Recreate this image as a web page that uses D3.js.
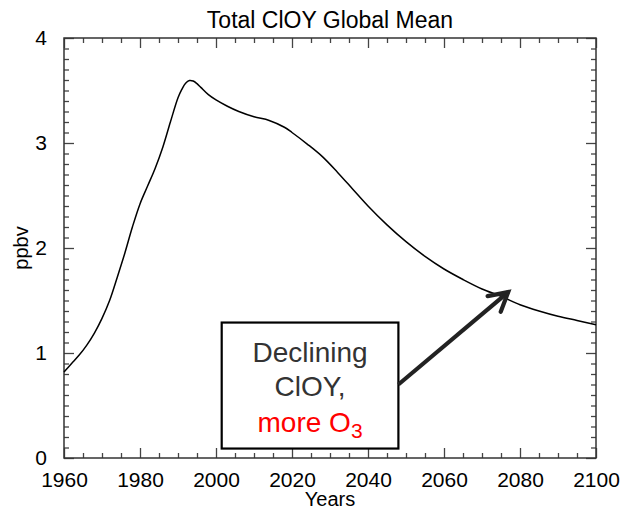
<!DOCTYPE html>
<html>
<head>
<meta charset="utf-8">
<script src="https://cdn.jsdelivr.net/npm/d3@7"></script>
<style>
  html, body { margin: 0; padding: 0; background: #fff; }
  svg { display: block; font-family: "Liberation Sans", Arial, Helvetica, sans-serif; }
</style>
</head>
<body>
<svg id="chart" width="622" height="511"></svg>
<script>
// Total ClOY global mean mixing ratio (ppbv) by year
const years = [1960, 1962, 1964, 1966, 1968, 1970, 1972, 1974, 1976, 1978,
               1980, 1982, 1984, 1986, 1988, 1990, 1991, 1992, 1993, 1994,
               1995, 1996, 1998, 2000, 2003, 2006, 2010, 2014, 2018, 2020,
               2024, 2028, 2032, 2036, 2040, 2045, 2050, 2055, 2060, 2065,
               2070, 2075, 2080, 2085, 2090, 2095, 2100];
const cloy  = [0.82, 0.90, 0.98, 1.075, 1.19, 1.33, 1.50, 1.72, 1.95, 2.20,
               2.42, 2.59, 2.76, 2.96, 3.20, 3.43, 3.51, 3.57, 3.595, 3.59,
               3.565, 3.53, 3.46, 3.41, 3.35, 3.30, 3.25, 3.215, 3.15, 3.10,
               2.99, 2.87, 2.72, 2.56, 2.40, 2.22, 2.06, 1.92, 1.80, 1.70,
               1.61, 1.54, 1.46, 1.40, 1.35, 1.31, 1.27];

const xMajor = [1960, 1980, 2000, 2020, 2040, 2060, 2080, 2100];
const yMajor = [0, 1, 2, 3, 4];

// Annotation: callout box and arrow pointing at the decline
const boxCorners = [[2001.5, 1.29], [2048.0, 0.09]];
const boxLines = ["Declining", "ClOY,"];
const arrowFrom = [2048.0, 0.70];
const arrowTo   = [2076.9, 1.58];

const svg = d3.select("#chart");
const L = 64, R = 596, T = 38, B = 458;

const x = d3.scaleLinear().domain([1960, 2100]).range([L, R]);
const y = d3.scaleLinear().domain([0, 4]).range([B, T]);

const xMinor = d3.range(1960, 2101, 5).filter(v => !xMajor.includes(v));
const yMinor = d3.range(0, 41).map(v => v / 10).filter(v => !yMajor.includes(v));

const tickColor = "#444";

function styleAxis(g) {
  g.select(".domain").remove();
  g.selectAll(".tick line").attr("stroke", tickColor).attr("stroke-width", 1.3);
  g.selectAll(".tick text").attr("fill", "#000").attr("font-size", 21)
    .attr("font-family", "'Liberation Sans', Arial, Helvetica, sans-serif");
}

// Bottom axis with labels
svg.append("g").attr("transform", `translate(0,${B})`)
  .call(d3.axisBottom(x).tickValues(xMajor).tickFormat(d3.format("d"))
    .tickSizeInner(-10).tickSizeOuter(0).tickPadding(14))
  .call(styleAxis);
svg.append("g").attr("transform", `translate(0,${B})`)
  .call(d3.axisBottom(x).tickValues(xMinor).tickFormat("").tickSizeInner(-5).tickSizeOuter(0))
  .call(styleAxis);
// Top axis, ticks only
svg.append("g").attr("transform", `translate(0,${T})`)
  .call(d3.axisTop(x).tickValues(xMajor).tickFormat("").tickSizeInner(-10).tickSizeOuter(0))
  .call(styleAxis);
svg.append("g").attr("transform", `translate(0,${T})`)
  .call(d3.axisTop(x).tickValues(xMinor).tickFormat("").tickSizeInner(-5).tickSizeOuter(0))
  .call(styleAxis);
// Left axis with labels
svg.append("g").attr("transform", `translate(${L},0)`)
  .call(d3.axisLeft(y).tickValues(yMajor).tickFormat(d3.format("d"))
    .tickSizeInner(-10).tickSizeOuter(0).tickPadding(17))
  .call(styleAxis)
  .call(g => g.selectAll(".tick text").attr("dy", "0.3em"));
svg.append("g").attr("transform", `translate(${L},0)`)
  .call(d3.axisLeft(y).tickValues(yMinor).tickFormat("").tickSizeInner(-5).tickSizeOuter(0))
  .call(styleAxis);
// Right axis, ticks only
svg.append("g").attr("transform", `translate(${R},0)`)
  .call(d3.axisRight(y).tickValues(yMajor).tickFormat("").tickSizeInner(-10).tickSizeOuter(0))
  .call(styleAxis);
svg.append("g").attr("transform", `translate(${R},0)`)
  .call(d3.axisRight(y).tickValues(yMinor).tickFormat("").tickSizeInner(-5).tickSizeOuter(0))
  .call(styleAxis);

// Plot frame
svg.append("rect")
  .attr("x", L).attr("y", T).attr("width", R - L).attr("height", B - T)
  .attr("fill", "none").attr("stroke", "#333").attr("stroke-width", 1.5);

// Data curve
const line = d3.line()
  .x((d, i) => x(years[i]))
  .y(d => y(d))
  .curve(d3.curveCatmullRom.alpha(0.5));
svg.append("path")
  .datum(cloy)
  .attr("d", line)
  .attr("fill", "none")
  .attr("stroke", "#000")
  .attr("stroke-width", 1.5);

// Titles
svg.append("text")
  .attr("x", (L + R) / 2).attr("y", 28)
  .attr("text-anchor", "middle").attr("font-size", 23)
  .text("Total ClOY Global Mean");
svg.append("text")
  .attr("x", (L + R) / 2).attr("y", 506)
  .attr("text-anchor", "middle").attr("font-size", 20)
  .text("Years");
svg.append("text")
  .attr("transform", `translate(28,${y(2)}) rotate(-90)`)
  .attr("text-anchor", "middle").attr("font-size", 20)
  .text("ppbv");

// Callout box
const bx0 = x(boxCorners[0][0]), by0 = y(boxCorners[0][1]);
const bx1 = x(boxCorners[1][0]), by1 = y(boxCorners[1][1]);
svg.append("rect")
  .attr("x", bx0).attr("y", by0).attr("width", bx1 - bx0).attr("height", by1 - by0)
  .attr("fill", "#fff").attr("stroke", "#000").attr("stroke-width", 2.2);

const cx = (bx0 + bx1) / 2;
const txt = svg.append("g").attr("text-anchor", "middle").attr("font-size", 28);
boxLines.forEach((s, i) => {
  txt.append("text").attr("x", cx).attr("y", by0 + 39 + i * 34.5)
    .attr("fill", "#333").text(s);
});
const o3 = txt.append("text").attr("x", cx).attr("y", by0 + 109).attr("fill", "#ff0000");
o3.append("tspan").text("more O");
o3.append("tspan").attr("font-size", 21).attr("dy", 6).text("3");

// Arrow
const ax0 = x(arrowFrom[0]), ay0 = y(arrowFrom[1]);
const ax1 = x(arrowTo[0]), ay1 = y(arrowTo[1]);
const ang = Math.atan2(ay1 - ay0, ax1 - ax0);
const headLen = 21, spread = Math.PI / 6.2;
const barb = a => [ax1 - headLen * Math.cos(ang - a), ay1 - headLen * Math.sin(ang - a)];
const arrow = svg.append("g")
  .attr("stroke", "#222").attr("stroke-width", 4.2)
  .attr("stroke-linecap", "round").attr("fill", "none");
arrow.append("line").attr("x1", ax0).attr("y1", ay0).attr("x2", ax1).attr("y2", ay1)
  .attr("stroke-linecap", "butt");
const b1 = barb(spread), b2 = barb(-spread);
arrow.append("path").attr("d", `M${b1[0]},${b1[1]}L${ax1},${ay1}L${b2[0]},${b2[1]}`)
  .attr("stroke-linejoin", "miter");
</script>
</body>
</html>
